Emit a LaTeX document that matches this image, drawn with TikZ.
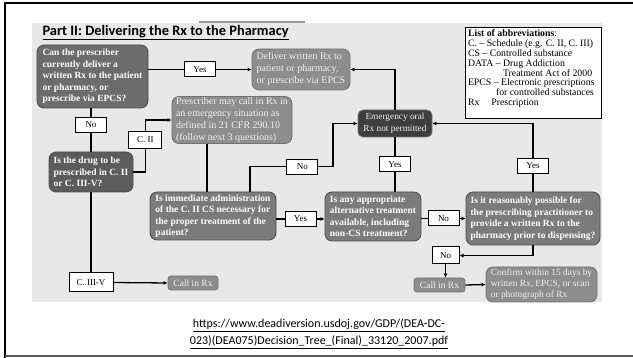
\documentclass[tikz,border=0pt]{standalone}
\usepackage{fontspec}
\setmainfont{Liberation Serif}
\newfontfamily\titlefont{Carlito}
\usetikzlibrary{arrows.meta, positioning, calc}

\definecolor{pagebg}{HTML}{E8E8E8}
\definecolor{askdark}{HTML}{6C6C6C}
\definecolor{askdeep}{HTML}{5C5C5C}
\definecolor{askmid}{HTML}{7B7B7B}
\definecolor{infogray}{HTML}{8D8D8D}
\definecolor{stopgray}{HTML}{3E3E3E}

\begin{document}
\begin{tikzpicture}[
    x=1pt, y=-1pt,
    qbox/.style={rectangle, draw=black!70, line width=0.8pt, fill=askmid, text=white, font=\bfseries\fontsize{9.5}{11.5}\selectfont, align=left, rounded corners=7pt, inner xsep=4pt, inner ysep=2pt},
    ibox/.style={rectangle, draw=black!55, line width=0.8pt, fill=infogray, text=black!6, font=\fontsize{10}{12}\selectfont, align=left, rounded corners=7pt, inner xsep=3pt, inner ysep=1pt},
    lbl/.style={rectangle, draw, line width=1pt, fill=white, font=\fontsize{9}{10}\selectfont, minimum height=15pt, minimum width=31pt, inner sep=1pt},
    line/.style={draw, line width=1.3pt, -{Latex[length=4pt, width=4pt]}},
    link/.style={draw, line width=1.3pt}
]
\useasboundingbox (0,0) rectangle (633,358);

% frame and panel
\fill [pagebg] (32,23) rectangle (602,302);
\draw [black!40, line width=2pt] (199,22) -- (305,22);
\draw [line width=2pt] (5,358) -- (5,3) -- (633,3);
\draw [black!65, line width=1.5pt] (5,356) -- (633,356);

\node [anchor=west, font=\titlefont\bfseries\fontsize{14.4}{16}\selectfont] (title) at (39,33) {\underline{Part II: Delivering the Rx to the Pharmacy}};

% boxes
\node [qbox, fill=askdark, minimum width=111pt, minimum height=63pt] (q1) at (92.5,76.5) {Can the prescriber\\currently deliver a\\written Rx to the patient\\or pharmacy, or\\prescribe via EPCS?};
\node [ibox, minimum width=98pt, minimum height=41pt] (deliver) at (301,69.5) {Deliver written Rx to\\patient or pharmacy,\\or prescribe via EPCS};
\node [ibox, minimum width=120pt, minimum height=46pt] (prescriber) at (232,120) {Prescriber may call in Rx in\\an emergency situation as\\defined in 21 CFR 290.10\\(follow next 3 questions)};
\node [qbox, fill=askdeep, minimum width=84pt, minimum height=40pt] (q2) at (91,172) {Is the drug to be\\prescribed in C. II\\or C. III-V?};
\node [ibox, fill=stopgray, align=center, font=\fontsize{9.3}{11.5}\selectfont, minimum width=74pt, minimum height=27pt, rounded corners=5pt] (emerg) at (395,123.5) {Emergency oral\\Rx not permitted};
\node [qbox, minimum width=126pt, minimum height=48pt] (q3) at (213,216) {Is immediate administration\\of the C. II CS necessary for\\the proper treatment of the\\patient?};
\node [qbox, minimum width=96pt, minimum height=49pt] (q4) at (373,216.5) {Is any appropriate\\alternative treatment\\available, including\\non-CS treatment?};
\node [qbox, minimum width=134pt, minimum height=53pt] (q5) at (533,218.5) {Is it reasonably possible for\\the prescribing practitioner to\\provide a written Rx to the\\pharmacy prior to dispensing?};
\node [ibox, align=center, font=\fontsize{9.5}{11}\selectfont, minimum width=50pt, minimum height=14pt, inner ysep=0pt, rounded corners=3pt] (callL) at (193,283) {Call in Rx};
\node [ibox, align=center, font=\fontsize{9.5}{11}\selectfont, minimum width=51pt, minimum height=14pt, inner ysep=0pt, rounded corners=3pt] (callR) at (439.5,285) {Call in Rx};
\node [ibox, font=\fontsize{9.4}{11}\selectfont, minimum width=111pt, minimum height=35pt] (confirm) at (541.5,284.5) {Confirm within 15 days by\\written Rx, EPCS, or scan\\or photograph of Rx};
\node [lbl, minimum width=44pt, minimum height=19pt] (ciii) at (91,282.5) {C.~III-V};
\node [lbl, minimum width=27pt, minimum height=17pt] (no4) at (445.5,255.5) {No};

\node [draw, line width=0.8pt, fill=white, inner sep=3pt] (abbrev) at (533,72.5) {\parbox[c][85pt][t]{130pt}{\fontsize{9.8}{9.8}\selectfont\raggedright
  \textbf{List of abbreviations}:\\
  C. -- Schedule (e.g. C. II, C. III)\\
  CS -- Controlled substance\\
  DATA -- Drug Addiction\\
  \hspace*{35pt}Treatment Act of 2000\\
  EPCS -- Electronic prescriptions\\
  \hspace*{28pt}for controlled substances\\
  Rx\hspace{12pt}Prescription}};

\node [font=\titlefont\fontsize{12}{17}\selectfont, align=center] (url) at (319,334) {\underline{https://www.deadiversion.usdoj.gov/GDP/(DEA-DC-}\\\underline{023)(DEA075)Decision\_Tree\_(Final)\_33120\_2007.pdf}};

% connectors
\path [line] (q1.east |- deliver.west) -- node [lbl] (yes1) {Yes} (deliver.west);
\path [link] (q1.south -| q2.north) -- node [lbl, pos=0.375] (no1) {No} (q2.north);
\path [line] (q2.east) -- ++(12,0) |- node [lbl, pos=0.31, minimum width=33pt, minimum height=17pt] (cii) {C.~II} (prescriber.west);
\path [link] (q2.south) -- (ciii.north);
\path [line] (ciii.east) -- (callL.west);
\path [link] ([xshift=-6pt]q3.north |- prescriber.south) -- ([xshift=-6pt]q3.north);
\path [line] ([xshift=37pt]q3.north) -- ++(0,-25) -- node [lbl, pos=0.63] (no2) {No} ++(83,0) |- (emerg.west);
\path [line] ([yshift=-3pt]q3.east) -- node [lbl] (yes2) {Yes} ([yshift=-3pt]q3.east -| q4.west);
\path [link] (q4.north -| emerg.south) -- node [lbl] (yes3) {Yes} (emerg.south);
\path [line] (q4.east |- q5.west) -- node [lbl] (no3) {No} (q5.west);
\path [line] (q5.north) |- node [lbl, pos=0.19] (yes4) {Yes} (emerg.east);
\path [line] (emerg.north) |- (deliver.east);
\path [line] (q5.south) |- (no4.east);
\path [line] (no4.south) -- (no4.south |- callR.north);
\path [line] (callR.east) -- (confirm.west);

\end{tikzpicture}
\end{document}
